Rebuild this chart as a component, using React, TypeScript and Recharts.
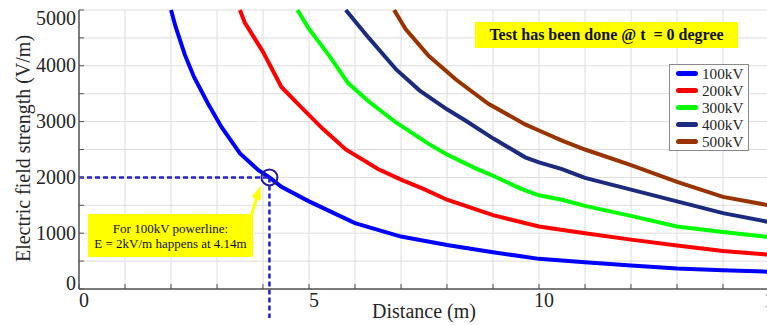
import React from 'react';
import { LineChart, Line, XAxis, YAxis, CartesianGrid, ReferenceLine, ReferenceDot } from 'recharts';

const seriesNames = ['100kV', '200kV', '300kV', '400kV', '500kV'];
const seriesColors = ['#0000ff', '#ff0000', '#00ff00', '#1a2b80', '#993300'];

const d100 = [2.0, 2.1, 2.3, 2.5, 2.8, 3.1, 3.5, 3.9, 4.14, 4.4, 5.0, 6.0, 7.0, 8.0, 9.0, 10.0, 11.0, 12.0, 13.0, 14.0, 15.0];
const e100 = [5000, 4700, 4200, 3800, 3330, 2900, 2430, 2130, 2000, 1830, 1570, 1180, 940, 790, 660, 540, 480, 420, 366, 335, 310];

const d200 = [3.5, 3.6, 4.0, 4.4, 4.85, 5.3, 5.8, 6.5, 7.0, 7.5, 8.0, 9.0, 10.0, 11.0, 12.0, 13.0, 14.0, 15.0];
const e200 = [5000, 4780, 4250, 3620, 3240, 2870, 2500, 2150, 1960, 1790, 1600, 1324, 1120, 1000, 885, 780, 680, 615];

const d300 = [4.75, 5.0, 5.45, 5.85, 6.3, 6.9, 7.6, 8.0, 8.6, 9.0, 9.6, 10.0, 10.5, 11.0, 12.0, 13.0, 14.0, 15.0];
const e300 = [5000, 4660, 4170, 3690, 3360, 2980, 2600, 2410, 2170, 2030, 1800, 1680, 1600, 1490, 1310, 1120, 1020, 930];

const d400 = [5.8, 6.3, 6.9, 7.4, 8.0, 8.4, 9.0, 9.7, 10.0, 10.5, 11.0, 12.0, 13.0, 14.0, 15.0];
const e400 = [5000, 4500, 3930, 3560, 3220, 3020, 2700, 2360, 2270, 2150, 1990, 1780, 1570, 1360, 1200];

const d500 = [6.85, 7.1, 7.6, 8.2, 8.9, 9.7, 10.0, 10.5, 11.0, 12.0, 13.0, 14.0, 15.0];
const e500 = [5000, 4660, 4180, 3750, 3320, 2950, 2840, 2660, 2500, 2220, 1920, 1650, 1500];

const xTicks = [0, 1, 2, 3, 4, 5, 6, 7, 8, 9, 10, 11, 12, 13, 14, 15];
const xLabelTicks = [0, 5, 10, 15];
const yTicks = [0, 500, 1000, 1500, 2000, 2500, 3000, 3500, 4000, 4500, 5000];
const yLabelTicks = [0, 1000, 2000, 3000, 4000, 5000];

const markDistance = 4.14;
const markField = 2000;

const build = (d: number[], e: number[]) => d.map((x, i) => ({ d: x, e: e[i] }));
const seriesData = [build(d100, e100), build(d200, e200), build(d300, e300), build(d400, e400), build(d500, e500)];

const FONT = '"Liberation Serif", "Times New Roman", serif';
const AXIS = '#555555';
const TEXT = '#262626';

const XTick = (props: any) => {
  const { x, y, payload } = props;
  const v = payload.value;
  return (
    <g>
      <line x1={x} y1={y} x2={x} y2={y - 5} stroke={AXIS} strokeWidth={1} />
      {xLabelTicks.includes(v) && (
        <text x={x + 5} y={y + 18} textAnchor="middle" fontFamily={FONT} fontSize={20} fill={TEXT}>{v}</text>
      )}
    </g>
  );
};

const XTopTick = (props: any) => {
  const { x, y } = props;
  return <line x1={x} y1={y} x2={x} y2={y + 5} stroke={AXIS} strokeWidth={1} />;
};

const YTick = (props: any) => {
  const { x, y, payload } = props;
  const v = payload.value;
  const dy = v === 5000 ? 15 : v === 0 ? 0.5 : 6.5;
  return (
    <g>
      <line x1={x} y1={y} x2={x + 5} y2={y} stroke={AXIS} strokeWidth={1} />
      {yLabelTicks.includes(v) && (
        <text x={x - 3} y={y + dy} textAnchor="end" fontFamily={FONT} fontSize={20} fill={TEXT}>{v}</text>
      )}
    </g>
  );
};

const YRightTick = (props: any) => {
  const { x, y } = props;
  return <line x1={x} y1={y} x2={x - 5} y2={y} stroke={AXIS} strokeWidth={1} />;
};

const ArrowShape = (props: any) => {
  const { cx, cy } = props;
  return (
    <g>
      <line x1={cx - 9} y1={cy + 29} x2={cx - 4} y2={cy + 12} stroke="#ffff00" strokeWidth={3} />
      <polygon points={`${cx},${cy} ${cx - 9},${cy + 11} ${cx},${cy + 15}`} fill="#ffff00" />
    </g>
  );
};

export default function App() {
  return (
    <div style={{ position: 'absolute', left: 0, top: 0, width: 767, height: 325, overflow: 'hidden', background: '#fff' }}>
      <LineChart width={780} height={325} margin={{ top: 10, right: 11, left: 0, bottom: 0 }}>
        <CartesianGrid stroke="#dcdcdc" strokeWidth={1} />
        <XAxis
          dataKey="d"
          type="number"
          domain={[0, 15]}
          ticks={xTicks}
          interval={0}
          height={36}
          tickSize={0}
          tickMargin={0}
          tickLine={false}
          stroke={AXIS}
          strokeWidth={1.5}
          tick={<XTick />}
          label={{ value: 'Distance (m)', position: 'center', dy: 4, style: { fontFamily: FONT, fontSize: 20, fill: TEXT } }}
        />
        <XAxis
          xAxisId="top"
          orientation="top"
          dataKey="d"
          type="number"
          domain={[0, 15]}
          ticks={xTicks}
          interval={0}
          height={0}
          tickSize={0}
          tickMargin={0}
          tickLine={false}
          stroke={AXIS}
          strokeWidth={1.5}
          tick={<XTopTick />}
        />
        <YAxis
          type="number"
          domain={[0, 5000]}
          ticks={yTicks}
          interval={0}
          width={79}
          tickSize={0}
          tickMargin={0}
          tickLine={false}
          stroke={AXIS}
          strokeWidth={1.5}
          tick={<YTick />}
          label={{ value: 'Electric field strength (V/m)', angle: -90, position: 'center', dx: -17, dy: -1, style: { fontFamily: FONT, fontSize: 20, fill: TEXT, textAnchor: 'middle' } }}
        />
        <YAxis
          yAxisId="right"
          orientation="right"
          type="number"
          domain={[0, 5000]}
          ticks={yTicks}
          interval={0}
          width={0}
          tickSize={0}
          tickMargin={0}
          tickLine={false}
          stroke={AXIS}
          strokeWidth={1.5}
          tick={<YRightTick />}
        />
        {seriesData.map((data, i) => (
          <Line
            key={seriesNames[i]}
            data={data}
            dataKey="e"
            name={seriesNames[i]}
            type="linear"
            stroke={seriesColors[i]}
            strokeWidth={4}
            dot={false}
            isAnimationActive={false}
          />
        ))}
        <ReferenceLine
          segment={[{ x: 0, y: markField }, { x: markDistance, y: markField }]}
          stroke="#2222cc"
          strokeWidth={2.5}
          strokeDasharray="5 3"
          ifOverflow="visible"
        />
        <ReferenceLine
          segment={[{ x: markDistance, y: markField }, { x: markDistance, y: -520 }]}
          stroke="#2222cc"
          strokeWidth={2.5}
          strokeDasharray="5 3"
          ifOverflow="visible"
        />
        <ReferenceDot x={markDistance} y={markField} r={8} fill="none" stroke="#2a1a9a" strokeWidth={2} ifOverflow="visible" />
        <ReferenceDot x={3.95} y={1850} ifOverflow="visible" shape={<ArrowShape />} />
      </LineChart>

      <div style={{ position: 'absolute', left: 475, top: 22, width: 263, height: 26, background: '#ffff00', display: 'flex', alignItems: 'center', justifyContent: 'center', fontFamily: FONT, fontWeight: 'bold', fontSize: 16, color: '#111', whiteSpace: 'pre' }}>
        {'Test has been done @ t  = 0 degree'}
      </div>

      <div style={{ position: 'absolute', left: 88, top: 214, width: 165, height: 43, background: '#ffff00', display: 'flex', flexDirection: 'column', alignItems: 'center', justifyContent: 'center', fontFamily: FONT, fontSize: 13, lineHeight: '15px', color: '#111' }}>
        <div>For 100kV powerline:</div>
        <div>E = 2kV/m happens at 4.14m</div>
      </div>

      <div style={{ position: 'absolute', left: 669, top: 64, width: 78, height: 85, background: '#fff', border: '1px solid #8a8a8a', boxSizing: 'content-box' }}>
        {seriesNames.map((n, i) => (
          <div key={n} style={{ display: 'flex', alignItems: 'center', height: 17 }}>
            <div style={{ marginLeft: 6, width: 22, height: 5, borderRadius: 3, background: seriesColors[i] }} />
            <div style={{ marginLeft: 4, fontFamily: FONT, fontSize: 15.2, color: TEXT, lineHeight: '17px' }}>{n}</div>
          </div>
        ))}
      </div>
    </div>
  );
}
